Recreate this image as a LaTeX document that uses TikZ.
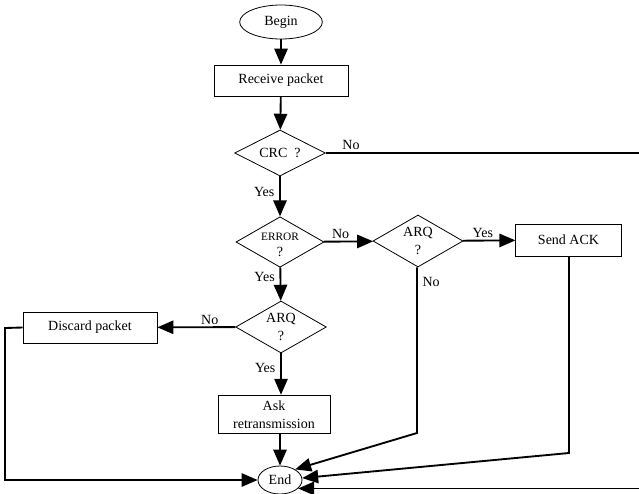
\documentclass[tikz,border=0pt]{standalone}
\usepackage{fontspec}
\setmainfont{Liberation Serif}
\usepackage{tikz}
\usetikzlibrary{arrows.meta,shapes.geometric}
\newcommand{\fcfont}{\fontsize{10.5}{13.5}\selectfont}
\tikzset{
  fc diagram/.style={font=\fcfont},
  fc box/.style={draw, line width=0.6pt, rectangle, inner sep=2pt, align=center},
  fc terminal/.style={draw, ellipse, line width=0.6pt, inner sep=0pt},
  fc decision/.style={draw, diamond, line width=0.6pt, inner sep=0pt,
    aspect=2, align=center},
  fc line/.style={line width=1.4pt},
  fc arrow/.style={fc line, -{Triangle[length=12pt,width=10pt]}},
  fc label/.style={inner sep=1.5pt}
}

\begin{document}
\begin{tikzpicture}[fc diagram,x=0.75pt,y=-0.75pt]
\useasboundingbox (0,0) rectangle (639,493);
\node[fc terminal,minimum width=62pt,minimum height=25.5pt] (begin) at (281,22) {Begin};
\node[fc box,minimum width=100.5pt,minimum height=23.25pt] (receive) at (281,80.5) {Receive packet};
\node[fc decision,minimum width=68pt,minimum height=34.5pt] (crc) at (280,153) {CRC\enspace ?};
\node[fc decision,aspect=1.6,inner ysep=-1pt,minimum width=66pt,minimum height=37.5pt] (error) at (280,242)
  {\rule{0pt}{10pt}{\fontsize{8.5}{10}\selectfont ERROR}\\[-1.5pt]?};
\node[fc decision,minimum width=67.5pt,minimum height=39pt] (arqack) at (418,241) {ARQ\\?};
\node[fc box,minimum width=79pt,minimum height=24pt] (ack) at (568.5,240) {Send ACK};
\node[fc decision,minimum width=68pt,minimum height=39pt] (arqrtx) at (281,327) {ARQ\\?};
\node[fc box,minimum width=100.5pt,minimum height=23.25pt] (discard) at (90,327.5) {Discard packet};
\node[fc box,minimum width=84pt,minimum height=29pt] (ask) at (274,414.5) {Ask\\retransmission};
\node[fc terminal,minimum width=33pt,minimum height=21pt] (end) at (280,480) {End};

\coordinate (rightedge) at (641,153);
\coordinate (leftedge) at (5,328);
\coordinate (nobend) at (417,433);
\coordinate (ackbend) at (569,453);

\draw[fc arrow] (begin) -- (receive);
\draw[fc arrow] (receive) -- (crc);
\draw[fc line] (crc.east) -- node[fc label,above,pos=0.08] {No} (rightedge)
  -- (rightedge |- end.-25);
\draw[fc arrow] (rightedge |- end.-25) -- (end.-25);
\draw[fc arrow] (crc) -- node[fc label,left=2pt,pos=0.4] {Yes} (error);
\draw[fc arrow] (error) -- node[fc label,above,pos=0.34] {No} (arqack);
\draw[fc arrow] (error) -- node[fc label,left=2pt,pos=0.3] {Yes} (arqrtx);
\draw[fc arrow] (arqack) -- node[fc label,above,pos=0.38] {Yes} (ack);
\draw[fc arrow] (arqack.south -| nobend) -- node[fc label,right=2pt,pos=0.09] {No} (nobend) -- (end.35);
\draw[fc arrow] (ack.south -| ackbend) -- (ackbend) -- (end.5);
\draw[fc arrow] (arqrtx) -- node[fc label,above,pos=0.33] {No} (discard);
\draw[fc arrow] (arqrtx.south) -- node[fc label,left=2pt,pos=0.35] {Yes} (arqrtx.south |- ask.north);
\draw[fc arrow] (ask.south -| end) -- (end);
\draw[fc arrow] (discard.west) -- (leftedge) -- (leftedge |- end.west) -- (end.west);
\end{tikzpicture}
\end{document}
